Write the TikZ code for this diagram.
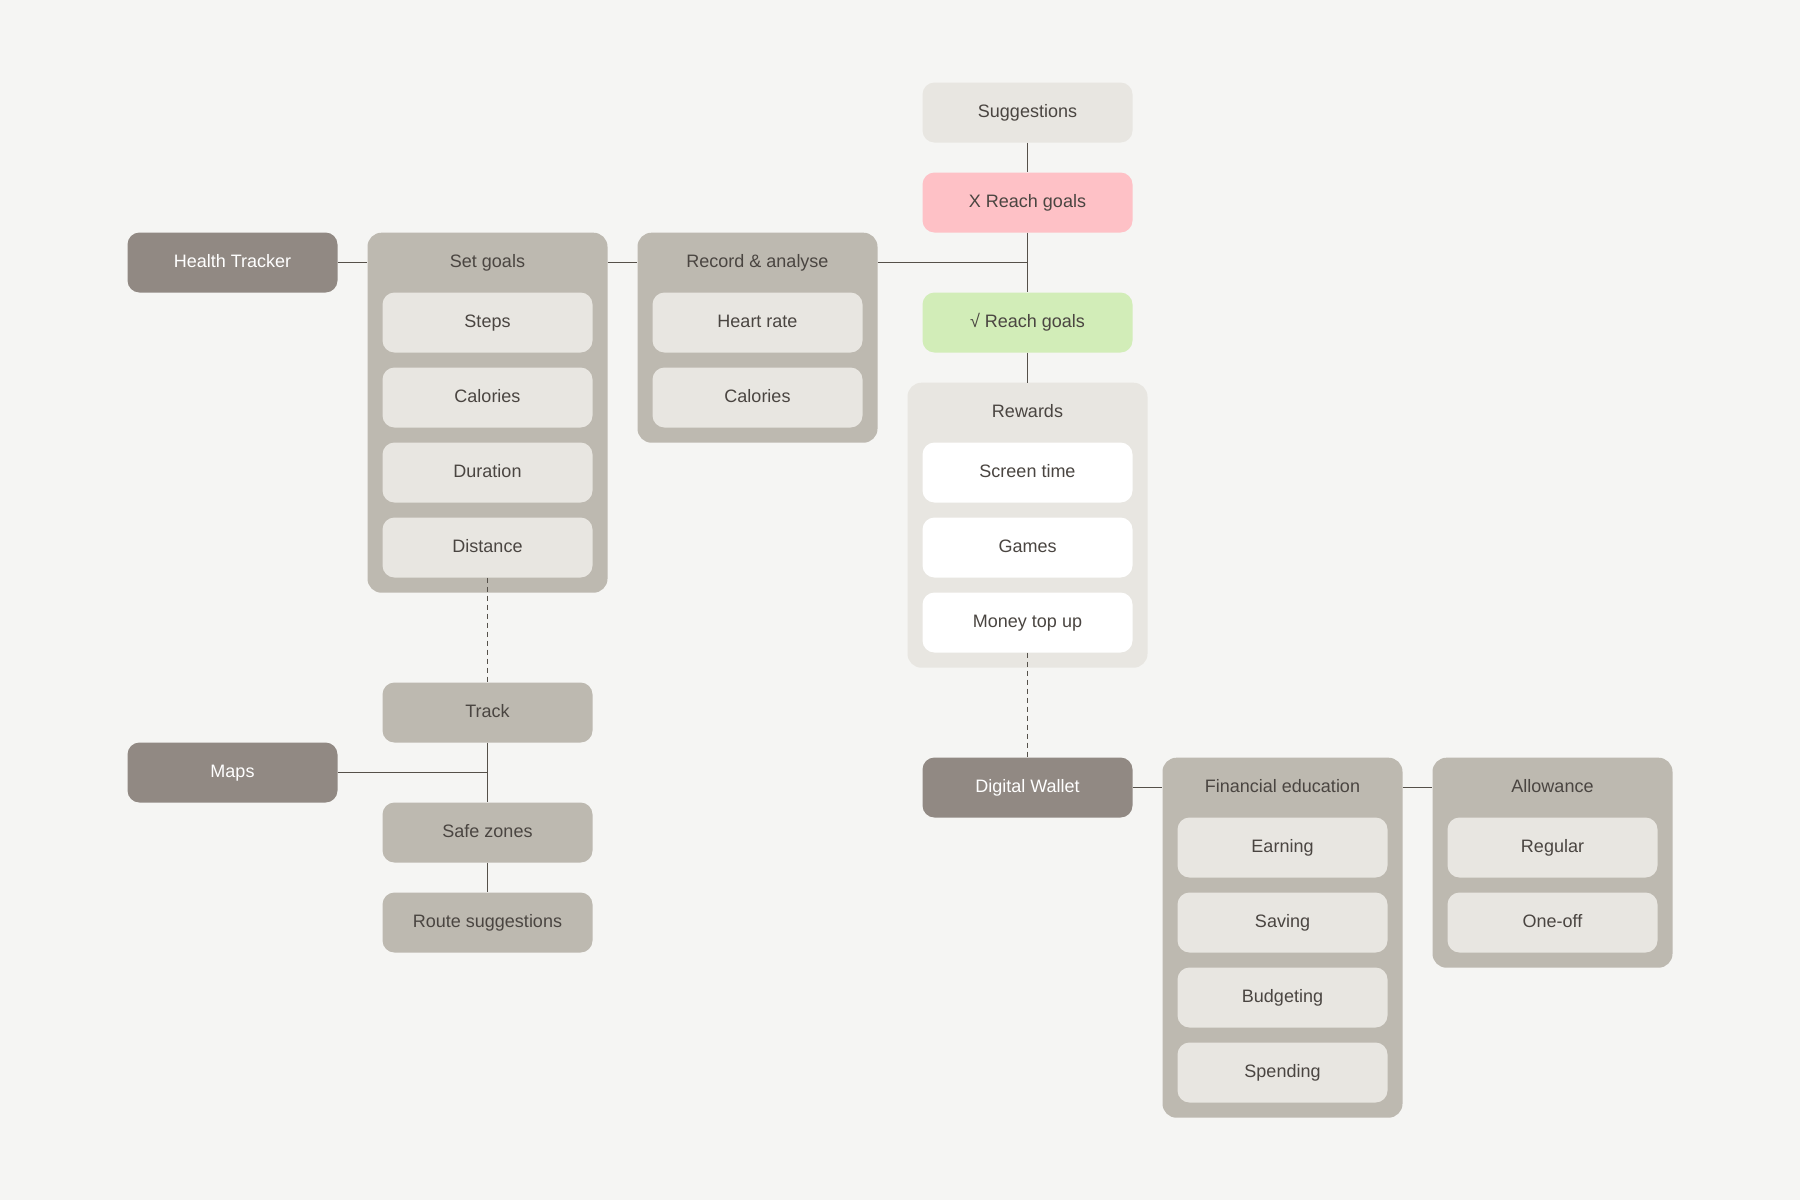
\documentclass[tikz,border=0pt]{standalone}
\usepackage{fontspec}
\setmainfont{Liberation Sans}
\definecolor{bg}{HTML}{F5F5F3}
\definecolor{dark}{HTML}{918983}
\definecolor{mid}{HTML}{BDB9B0}
\definecolor{light}{HTML}{E8E6E1}
\definecolor{pinkc}{HTML}{FEC1C6}
\definecolor{greenc}{HTML}{D2EDB8}
\definecolor{txt}{HTML}{4A4541}
\definecolor{ln}{HTML}{555049}
\tikzset{
 box/.style={rounded corners=12pt, minimum width=210pt, minimum height=60pt, inner sep=0pt, text height=13pt, text depth=4pt, font=\fontsize{18}{22}\selectfont, text=txt},
 darkbox/.style={box, fill=dark, text=white},
 midbox/.style={box, fill=mid},
 lightbox/.style={box, fill=light},
 whitebox/.style={box, fill=white},
 pinkbox/.style={box, fill=pinkc},
 greenbox/.style={box, fill=greenc},
 cont/.style={rounded corners=14pt, minimum width=240pt, inner sep=0pt, anchor=north},
 ttl/.style={font=\fontsize{18}{22}\selectfont, text=txt, inner sep=0pt, text height=13pt, text depth=4pt},
 conn/.style={draw=ln, line width=1.5pt},
 dconn/.style={conn, dash pattern=on 5pt off 4pt},
}
\begin{document}
\begin{tikzpicture}[x=1pt,y=-1pt]
\fill[bg] (0,0) rectangle (1800,1200);
\useasboundingbox (0,0) rectangle (1800,1200);

% Health tracker branch
\node[darkbox] (ht) at (232.5,262.5) {Health Tracker};
\node[cont, fill=mid, minimum height=360pt] (sg) at (487.5,232.5) {};
\node[ttl] (sgt) at (487.5,262.5) {Set goals};
\node[lightbox] (steps) at (487.5,322.5) {Steps};
\node[lightbox] (cal1) at (487.5,397.5) {Calories};
\node[lightbox] (dur) at (487.5,472.5) {Duration};
\node[lightbox] (dist) at (487.5,547.5) {Distance};

\node[cont, fill=mid, minimum height=210pt] (rec) at (757.5,232.5) {};
\node[ttl] (rect) at (757.5,262.5) {Record \& analyse};
\node[lightbox] (hr) at (757.5,322.5) {Heart rate};
\node[lightbox] (cal2) at (757.5,397.5) {Calories};

% Goals column
\node[lightbox] (sug) at (1027.5,112.5) {Suggestions};
\node[pinkbox] (xr) at (1027.5,202.5) {X Reach goals};
\node[greenbox] (vr) at (1027.5,322.5) {√ Reach goals};
\node[cont, fill=light, minimum height=285pt] (rw) at (1027.5,382.5) {};
\node[ttl] (rwt) at (1027.5,412.5) {Rewards};
\node[whitebox] (scr) at (1027.5,472.5) {Screen time};
\node[whitebox] (gam) at (1027.5,547.5) {Games};
\node[whitebox] (mon) at (1027.5,622.5) {Money top up};

% Maps branch
\node[midbox] (trk) at (487.5,712.5) {Track};
\node[darkbox] (maps) at (232.5,772.5) {Maps};
\node[midbox] (sz) at (487.5,832.5) {Safe zones};
\node[midbox] (rs) at (487.5,922.5) {Route suggestions};

% Wallet branch
\node[darkbox] (dw) at (1027.5,787.5) {Digital Wallet};
\node[cont, fill=mid, minimum height=360pt] (fe) at (1282.5,757.5) {};
\node[ttl] (fet) at (1282.5,787.5) {Financial education};
\node[lightbox] (earn) at (1282.5,847.5) {Earning};
\node[lightbox] (sav) at (1282.5,922.5) {Saving};
\node[lightbox] (bud) at (1282.5,997.5) {Budgeting};
\node[lightbox] (spe) at (1282.5,1072.5) {Spending};

\node[cont, fill=mid, minimum height=210pt] (al) at (1552.5,757.5) {};
\node[ttl] (alt) at (1552.5,787.5) {Allowance};
\node[lightbox] (reg) at (1552.5,847.5) {Regular};
\node[lightbox] (one) at (1552.5,922.5) {One-off};

% connectors
\draw[conn] (ht.east) -- (ht.east -| sg.west);
\draw[conn] (sgt -| sg.east) -- (sgt -| rec.west);
\coordinate (j1) at (xr.south |- rect);
\draw[conn] (rect -| rec.east) -- (j1);
\draw[conn] (sug.south) -- (xr.north);
\draw[conn] (xr.south) -- (vr.north);
\draw[conn] (vr.south) -- (rw.north);
\draw[dconn] (dist.south) -- (trk.north);
\draw[dconn] (mon.south) -- (dw.north);
\draw[conn] (trk.south) -- (sz.north);
\coordinate (j2) at (trk.south |- maps);
\draw[conn] (maps.east) -- (j2);
\draw[conn] (sz.south) -- (rs.north);
\draw[conn] (dw.east) -- (dw.east -| fe.west);
\draw[conn] (fet -| fe.east) -- (fet -| al.west);
\end{tikzpicture}
\end{document}
